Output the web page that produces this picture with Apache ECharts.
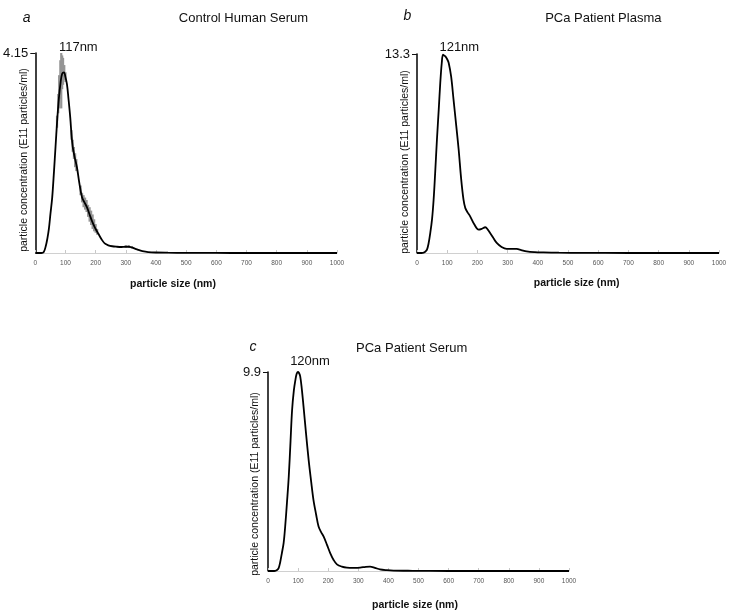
<!DOCTYPE html>
<html>
<head>
<meta charset="utf-8">
<script src="https://cdn.jsdelivr.net/npm/echarts@6/dist/echarts.min.js"></script>
<style>html,body{margin:0;padding:0;background:#fff;}#c{width:748px;height:613px;}</style>
</head>
<body>
<div id="c"></div>
<script>
// ---- data ----
const xTicks = [0,100,200,300,400,500,600,700,800,900,1000];
const panelTitles = ['Control Human Serum', 'PCa Patient Plasma', 'PCa Patient Serum'];
const panelLetters = ['a', 'b', 'c'];
const peakLabels = ['117nm', '121nm', '120nm'];
const yMax = [4.15, 13.3, 9.9];

const sizeA = [0,10,20,28,35,40,45,50,56,62,67,72,78,84,89,95,100,105,110,116,120,124,130,138,146,155,163,171,180,188,198,209,220,230,242,255,270,285,300,310,320,330,341,355,374,400,440,500,600,700,800,900,1000];
const concA = [0,0,0,0.02,0.15,0.3,0.5,0.8,1.15,1.7,2.2,2.7,3.2,3.55,3.72,3.75,3.65,3.5,3.2,2.8,2.45,2.2,2.0,1.78,1.45,1.15,1.05,0.95,0.8,0.66,0.52,0.4,0.28,0.2,0.16,0.14,0.13,0.125,0.13,0.13,0.115,0.09,0.065,0.04,0.02,0.01,0.006,0.003,0.001,0,0,0,0];

const errSizeA = [72,76,79,83,86,89,92,96,100,120,124,128,132,136,150,155,160,165,170,175,180,185,190,195,200,205,300,310,320];
const errLowA  = [2.6,2.9,3.0,3.2,3.0,3.4,3.49,3.59,3.55,2.35,2.1,1.95,1.78,1.7,1.2,1.05,0.95,0.9,0.85,0.75,0.65,0.58,0.5,0.45,0.42,0.38,0.11,0.11,0.09];
const errHighA = [2.85,3.3,3.69,4.0,4.15,4.1,4.05,3.9,3.75,2.55,2.35,2.2,2.07,1.95,1.4,1.25,1.2,1.15,1.1,1.0,0.95,0.88,0.8,0.7,0.6,0.5,0.16,0.16,0.14];

const sizeB = [0,15,22,28,33,38,44,50,55,60,66,72,77,82,86,90,94,100,105,113,121,130,138,146,154,160,168,176,190,204,215,226,235,242,253,264,280,297,315,330,345,363,390,419,470,550,700,1000];
const concB = [0,0,0.02,0.1,0.22,0.6,1.34,2.3,3.56,5.3,7.57,9.6,11.36,12.7,13.25,13.2,13.14,12.95,12.7,11.8,10.25,8.5,6.9,5.0,3.56,3.0,2.7,2.45,1.9,1.56,1.62,1.72,1.55,1.34,1.0,0.67,0.4,0.27,0.28,0.27,0.2,0.11,0.06,0.04,0.02,0.01,0,0];

const sizeC = [0,15,24,30,35,40,46,52,57,63,69,75,80,86,91,95,99,103,107,112,118,126,135,143,151,160,168,176,185,196,207,218,229,245,262,285,306,325,339,355,372,395,417,480,600,1000];
const concC = [0,0,0.01,0.05,0.13,0.4,0.88,1.4,2.2,3.4,4.7,6.5,8.0,9.0,9.5,9.8,9.9,9.85,9.68,9.1,8.19,6.9,5.53,4.5,3.54,2.8,2.21,1.95,1.71,1.3,0.88,0.55,0.33,0.22,0.17,0.16,0.17,0.21,0.22,0.16,0.08,0.04,0.02,0.01,0,0];

const yAxisName = 'particle concentration (E11 particles/ml)';
const xAxisName = 'particle size (nm)';

// ---- layout ----
const FONT = 'Liberation Sans, Arial, Helvetica, sans-serif';
const grids = [
  {left: 33, top: 53, width: 304, height: 200},
  {left: 417, top: 54, width: 302, height: 199},
  {left: 268, top: 372, width: 301, height: 199}
];
const textPos = [
  {letter:[26.7,18], title:[243.5,18.3], peak:[78.3,47.3], yname:[24,160], xname:[173,284]},
  {letter:[407.5,16], title:[603.3,18.3], peak:[459.3,47.7], yname:[405,162], xname:[576.7,283]},
  {letter:[253,346.7], title:[411.7,348.3], peak:[310,361], yname:[255,484], xname:[415,605]}
];

const zip = (xs, ys) => xs.map((x, i) => [x, ys[i]]);
const seriesData = [zip(sizeA, concA), zip(sizeB, concB), zip(sizeC, concC)];
const errData = errSizeA.map((x, i) => [x, errLowA[i], errHighA[i]]);

const xAxes = grids.map((g, i) => ({
  type: 'value', gridIndex: i, min: xTicks[0], max: xTicks[xTicks.length-1], interval: xTicks[1]-xTicks[0],
  axisLine: {show: true, lineStyle: {color: '#d0d0d0', width: 1}},
  axisTick: {show: true, inside: true, length: 3, lineStyle: {color: '#c8c8c8'}},
  axisLabel: {fontSize: 6.5, color: '#555', margin: 7, fontFamily: FONT, formatter: v => String(v)},
  splitLine: {show: false}
}));
const yAxes = grids.map((g, i) => ({
  type: 'value', gridIndex: i, min: 0, max: yMax[i], interval: yMax[i],
  axisLine: {show: true, lineStyle: {color: '#111', width: 1.6}},
  axisTick: {show: true, length: 5, customValues: [yMax[i]], lineStyle: {color: '#111', width: 1}},
  axisLabel: {showMinLabel: false, customValues: [yMax[i]], fontSize: 13, color: '#111', margin: 7, fontFamily: FONT,
    formatter: v => String(v)},
  splitLine: {show: false}
}));

const series = [];
series.push({
  type: 'custom', xAxisIndex: 0, yAxisIndex: 0, z: 1,
  data: errData, encode: {x: 0, y: [1, 2]},
  renderItem: function (params, api) {
    const p1 = api.coord([api.value(0), api.value(1)]);
    const p2 = api.coord([api.value(0), api.value(2)]);
    return {type: 'line', shape: {x1: p1[0], y1: p1[1], x2: p2[0], y2: p2[1]},
      style: {stroke: '#959595', lineWidth: 2.2}};
  }
});
seriesData.forEach((d, i) => {
  series.push({
    type: 'line', xAxisIndex: i, yAxisIndex: i, z: 3, data: d, smooth: 0.35,
    showSymbol: false, lineStyle: {color: '#000', width: 1.8}, silent: true
  });
});

const graphics = [];
textPos.forEach((p, i) => {
  graphics.push({type: 'text', x: p.letter[0], y: p.letter[1], style: {text: panelLetters[i], font: 'italic 14px ' + FONT, fill: '#111', align: 'center', verticalAlign: 'middle'}});
  graphics.push({type: 'text', x: p.title[0], y: p.title[1], style: {text: panelTitles[i], font: '13px ' + FONT, fill: '#111', align: 'center', verticalAlign: 'middle'}});
  graphics.push({type: 'text', x: p.peak[0], y: p.peak[1], style: {text: peakLabels[i], font: '13px ' + FONT, fill: '#111', align: 'center', verticalAlign: 'middle'}});
  graphics.push({type: 'text', x: p.yname[0], y: p.yname[1], rotation: Math.PI/2, style: {text: yAxisName, font: '10.5px ' + FONT, fill: '#111', align: 'center', verticalAlign: 'middle'}});
  graphics.push({type: 'text', x: p.xname[0], y: p.xname[1], style: {text: xAxisName, font: 'bold 10.5px ' + FONT, fill: '#111', align: 'center', verticalAlign: 'middle'}});
});

const chart = echarts.init(document.getElementById('c'), null, {renderer: 'canvas'});
chart.setOption({
  backgroundColor: '#fff',
  animation: false,
  grid: grids,
  xAxis: xAxes,
  yAxis: yAxes,
  series: series,
  graphic: graphics
});
</script>
</body>
</html>
